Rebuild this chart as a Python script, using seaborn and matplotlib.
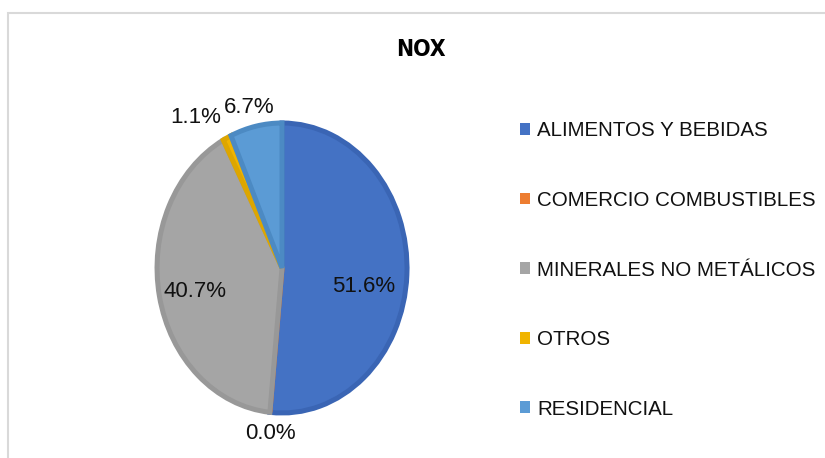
import numpy as np
import matplotlib
matplotlib.use('Agg')
import matplotlib.pyplot as plt
from matplotlib.patches import Patch, Rectangle
import seaborn as sns

# Data (percent share of NOx by sector)
categories = ['ALIMENTOS Y BEBIDAS', 'COMERCIO COMBUSTIBLES',
              'MINERALES NO METÁLICOS', 'OTROS', 'RESIDENCIAL']
values = [51.6, 0.0, 40.7, 1.1, 6.7]
fill_colors = ['#4472C4', '#ED7D31', '#A5A5A5', '#F0B400', '#5B9BD5']
edge_colors = ['#3A65B4', '#D86E28', '#989898', '#DDA600', '#4C8AC3']

sns.set_theme(style='white')
plt.rcParams['font.family'] = ['Liberation Sans', 'DejaVu Sans']

fig = plt.figure(figsize=(8.25, 4.58), dpi=100)

# pie axes: stretched vertically like the original (not equal aspect)
ax = fig.add_axes([0.1752, 0.0666, 0.3333, 0.6965])
wedges, _ = ax.pie(values, startangle=90, counterclock=False, radius=1.0,
                   colors=fill_colors,
                   wedgeprops=dict(linewidth=3.6))
for w, ec in zip(wedges, edge_colors):
    w.set_edgecolor(ec)
    w.set_clip_on(False)
ax.set_xlim(-1.1, 1.1)
ax.set_ylim(-1.1, 1.1)
ax.set_aspect('auto')
ax.axis('off')

# data labels placed from each wedge's mid angle
label_r = [0.663, 1.142, 0.714, 1.243, 1.139]
label_shift = [-8.4, 1.0, 1.9, 7.5, 1.3]
for w, v, r, sh in zip(wedges, values, label_r, label_shift):
    mid = np.deg2rad((w.theta1 + w.theta2) / 2 + sh)
    ax.text(r * np.cos(mid), r * np.sin(mid), f'{v:.1f}%',
            ha='center', va='center', fontsize=16, color='#111111')

fig.text(0.510, 0.891, 'NOX', ha='center', va='center', fontsize=16.5,
         fontweight='bold', fontstretch='condensed', color='black',
         family=['DejaVu Sans Condensed', 'DejaVu Sans'])

handles = [Patch(facecolor=c, edgecolor='none') for c in fill_colors]
fig.legend(handles, categories, loc='upper left',
           bbox_to_anchor=(0.630, 0.735), frameon=False, fontsize=14.8,
           labelcolor='#111111',
           handlelength=0.5, handleheight=0.5, handletextpad=0.35,
           labelspacing=2.46, borderpad=0, borderaxespad=0)

# light outer border of the chart area (top/left visible)
fig.add_artist(Rectangle((0.0092, -0.1), 1.2, 1.0727, transform=fig.transFigure,
                         fill=False, edgecolor='#d9d9d9', linewidth=1.5))

fig.savefig('out.png', dpi=100)
